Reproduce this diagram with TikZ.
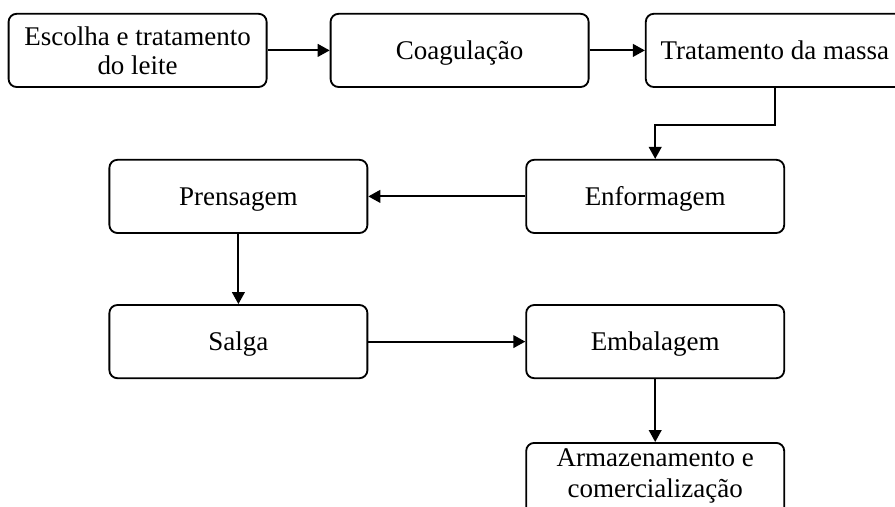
\documentclass[tikz,border=0pt]{standalone}
\usepackage{fontspec}
\setmainfont{Liberation Serif}
\usetikzlibrary{arrows.meta}

\tikzset{
  etapa/.style={draw, rounded corners=0.2cm, line width=1.3pt, align=center,
    minimum width=6.45cm, minimum height=1.83cm, inner sep=2pt, text depth=0pt,
    font=\fontsize{19.2}{20.5}\selectfont},
  seta/.style={-{Triangle[length=8.5pt,width=9pt]}, line width=1.3pt}
}

\begin{document}
\begin{tikzpicture}
\useasboundingbox (0,0) rectangle (22.375,-12.675);

\node (escolha) at (3.44,-1.26) [etapa] {Escolha e tratamento\\do leite};
\node (coag) at (11.49,-1.26) [etapa] {Coagulação};
\node (tratamento) at (19.37,-1.26) [etapa] {Tratamento da massa};

\node (enform) at (16.38,-4.91) [etapa] {Enformagem};
\node (prens) at (5.96,-4.91) [etapa] {Prensagem};

\node (salga) at (5.96,-8.54) [etapa] {Salga};
\node (embal) at (16.38,-8.54) [etapa] {Embalagem};

\node (armaz) at (16.38,-11.05) [etapa, anchor=north, text height=1.3cm, text depth=1cm,
  font=\fontsize{19.2}{22}\selectfont] {Armazenamento e\\comercialização};

\draw [seta] (escolha) -- (coag);
\draw [seta] (coag) -- (tratamento);
\draw [seta] (tratamento.south) -- ++(0,-0.93) -| (enform.north);
\draw [seta] (enform) -- (prens);
\draw [seta] (prens) -- (salga);
\draw [seta] (salga) -- (embal);
\draw [seta] (embal) -- (armaz);

\end{tikzpicture}
\end{document}
